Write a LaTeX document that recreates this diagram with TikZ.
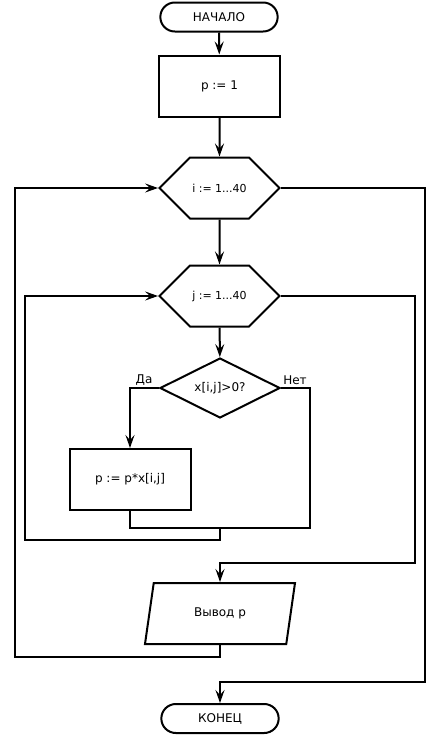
\documentclass[tikz,border=0pt]{standalone}
\usepackage{fontspec}
\setmainfont{DejaVu Sans}
\usetikzlibrary{shapes.geometric,shapes.misc,shapes.symbols,arrows.meta}

\begin{document}
\begin{tikzpicture}[x=1pt,y=-1pt]

\tikzset{
  block/.style={draw, line width=2pt, font=\fontsize{12}{14}\selectfont},
  term/.style={block, rounded rectangle, minimum width=124pt, minimum height=29pt},
  proc/.style={block, rectangle, minimum width=121pt, minimum height=61pt},
  loop/.style={block, signal, signal to=east and west, signal pointer angle=90,
    inner xsep=0pt, font=\fontsize{11}{13}\selectfont,
    minimum width=120pt, minimum height=61pt},
  test/.style={block, diamond, aspect=2, minimum width=120pt, minimum height=60pt},
  io/.style={block, trapezium, trapezium left angle=64, trapezium right angle=116,
    trapezium stretches body=true, minimum width=150pt, minimum height=61pt},
  flow/.style={line width=2pt},
  arrow/.style={flow, -{Stealth[length=13pt,width=9pt,inset=5pt]}},
  lbl/.style={font=\fontsize{12}{14}\selectfont}
}

\useasboundingbox (0,0) rectangle (440,736);

% Blocks
\node[term] (start) at (219,17)    {НАЧАЛО};
\node[proc] (init)  at (219.5,86)  {p := 1};
\node[loop] (loopi) at (219.5,188) {i := 1...40};
\node[loop] (loopj) at (219.5,296) {j := 1...40};
\node[test] (cond)  at (220,388)   {x[i,j]>0?};
\node[proc] (mult)  at (130,479.5) {p := p*x[i,j]};
\node[io]   (out)   at (220,613.5) {Вывод p};
\node[term] (stop)  at (220,718.5) {КОНЕЦ};

% Labels
\node[lbl] (yes) at (144,380) {Да};
\node[lbl] (no)  at (295,380) {Нет};

% Bend points
\coordinate (noR)   at (310,528);
\coordinate (merge) at (220,528);
\coordinate (jback) at (25,540);
\coordinate (jexit) at (415,563);
\coordinate (iback) at (15,657);
\coordinate (iexit) at (425,682);

% Main line
\draw[arrow] (start) -- (init);
\draw[arrow] (init) -- (loopi);
\draw[arrow] (loopi) -- (loopj);
\draw[arrow] (loopj) -- (cond);

% Branch
\draw[arrow] (cond.west) -| (mult.north);
\draw[flow] (cond.east) -| (noR) -| (mult.south);

% Inner loop
\draw[arrow] (merge) |- (jback) |- (loopj.west);
\draw[arrow] (loopj.east) -| (jexit) -| (out.north);

% Outer loop
\draw[arrow] (out.south) |- (iback) |- (loopi.west);
\draw[arrow] (loopi.east) -| (iexit) -| (stop.north);

\end{tikzpicture}
\end{document}
